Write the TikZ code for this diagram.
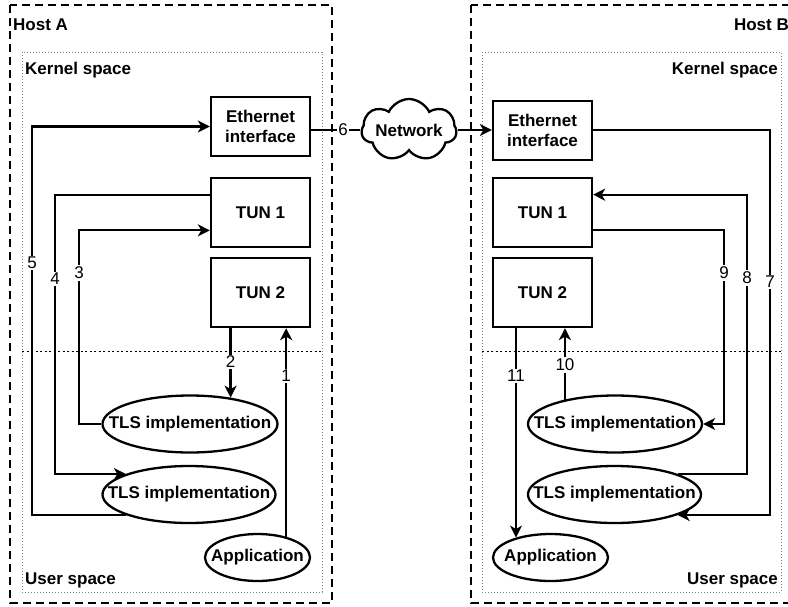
\documentclass[tikz,border=0pt]{standalone}
\usepackage{fontspec}
\setmainfont{Liberation Sans}
\usetikzlibrary{arrows.meta,shapes.geometric,shapes.symbols,calc}
\newcommand\zw[1]{\makebox[0pt]{#1}}
\begin{document}
\begin{tikzpicture}[x=1pt,y=-1pt,
  txt/.style={font=\fontsize{17}{20}\selectfont},
  btxt/.style={font=\fontsize{17}{20}\selectfont\bfseries},
  box/.style={draw,line width=2.3pt,minimum width=99pt,inner sep=0pt,btxt,align=center},
  oval/.style={draw,ellipse,line width=2.3pt,inner sep=0pt,btxt},
  conn/.style={line width=2.3pt},
  arr/.style={conn,-{Stealth[length=12pt,width=12pt,inset=3.5pt]}},
  lbl/.style={txt,fill=white,inner sep=1.5pt},
  title/.style={btxt,inner sep=0pt},
  host/.style={draw,line width=2.5pt,dash pattern=on 8pt off 5pt},
  space/.style={draw,gray,line width=1pt,dotted},
  divider/.style={draw,line width=0.8pt,dash pattern=on 2pt off 2.5pt}]
\useasboundingbox (0,0) rectangle (788,606);
% containers
\draw[host] (10,5) rectangle (332,603);
\draw[host] (471,5) rectangle (806,603);
\draw[space] (22,52) rectangle (322,592);
\draw[space] (482,52) rectangle (781,592);
\draw[divider] (22,351) -- (322,351);
\draw[divider] (482,351) -- (781,351);
% titles
\node[title,anchor=west] (hosta) at (13,25) {Host A};
\node[title,anchor=west] (kera) at (25,70) {Kernel space};
\node[title,anchor=west] (usra) at (25,580) {User space};
\node[title,anchor=east] (hostb) at (789,25) {Host B};
\node[title,anchor=east] (kerb) at (778,70) {Kernel space};
\node[title,anchor=east] (usrb) at (778,580) {User space};
% Host A nodes
\node[box,minimum height=59pt] (etha) at (260.5,126.5) {Ethernet\\interface};
\node[box,minimum height=69pt] (tun1a) at (260.5,212.5) {TUN 1};
\node[box,minimum height=69pt] (tun2a) at (260.5,292.5) {TUN 2};
\node[oval,minimum width=175pt,minimum height=57pt] (tls1a) at (190,424) {\zw{TLS implementation}};
\node[oval,minimum width=173pt,minimum height=57pt] (tls2a) at (189,494.5) {\zw{TLS implementation}};
\node[oval,minimum width=105pt,minimum height=47pt] (appa) at (257.5,557.5) {\zw{Application}};
% Host B nodes
\node[box,minimum height=59pt] (ethb) at (542.5,130.5) {Ethernet\\interface};
\node[box,minimum height=69pt] (tun1b) at (542.5,212.5) {TUN 1};
\node[box,minimum height=69pt] (tun2b) at (542.5,292.5) {TUN 2};
\node[oval,minimum width=174pt,minimum height=57pt] (tls1b) at (615,424) {\zw{TLS implementation}};
\node[oval,minimum width=173pt,minimum height=57pt] (tls2b) at (614.5,494.5) {\zw{TLS implementation}};
\node[oval,minimum width=115pt,minimum height=47pt] (appb) at (550.5,557.5) {\zw{Application}};
% network
\node[cloud,draw,line width=2.3pt,cloud puffs=7,cloud puff arc=130,aspect=1.6,
      minimum width=95pt,minimum height=62pt,inner sep=0pt,btxt] (net) at (409,130) {\zw{Network}};
% helper points
\coordinate (t1a4) at ($(tun1a.north west)!0.25!(tun1a.south west)$);
\coordinate (t1a3) at ($(tun1a.north west)!0.75!(tun1a.south west)$);
\coordinate (t1b8) at ($(tun1b.north east)!0.25!(tun1b.south east)$);
\coordinate (t1b9) at ($(tun1b.north east)!0.75!(tun1b.south east)$);
\coordinate (x5) at (32,0);
\coordinate (x4) at (55,0);
\coordinate (x3) at (79,0);
\coordinate (x7) at (770,0);
\coordinate (x8) at (747,0);
\coordinate (x9) at (724,0);
% Host A connectors
\draw[arr] (tls2a.198) -| (x5 |- etha.west) -- (etha.west);
\draw[arr] (t1a4) -| (x4 |- tls2a.162) -- (tls2a.162);
\draw[arr] (tls1a.west) -| (x3 |- t1a3) -- (t1a3);
\draw[arr] (tun2a.south -| tls1a.33) -- (tls1a.33);
\draw[arr] (appa.36) -- (appa.36 |- tun2a.south);
\node[lbl] (l5) at (32,263) {5};
\node[lbl] (l4) at (55,279) {4};
\node[lbl] (l3) at (79,273) {3};
\node[lbl] (l2) at (tls1a.33 |- 0,362) {2};
\node[lbl] (l1) at (appa.36 |- 0,376) {1};
% network connectors
\draw[conn] (net.west -| etha.east) -- node[lbl,pos=0.65] (l6) {6} (net.west);
\draw[arr] (net.east) -- (net.east -| ethb.west);
% Host B connectors
\draw[arr] (ethb.east |- net.east) -| (x7 |- tls2b.-18) -- (tls2b.-18);
\draw[arr] (tls2b.18) -| (x8 |- t1b8) -- (t1b8);
\draw[arr] (t1b9) -| (x9 |- tls1b.east) -- (tls1b.east);
\draw[arr] (tls1b.154) -- (tls1b.154 |- tun2b.south);
\draw[arr] (appb.150 |- tun2b.south) -- (appb.150);
\node[lbl] (l7) at (770,282) {7};
\node[lbl] (l8) at (747,278) {8};
\node[lbl] (l9) at (724,273) {9};
\node[lbl] (l10) at (tls1b.154 |- 0,365) {10};
\node[lbl] (l11) at (appb.150 |- 0,376) {11};
\end{tikzpicture}
\end{document}
